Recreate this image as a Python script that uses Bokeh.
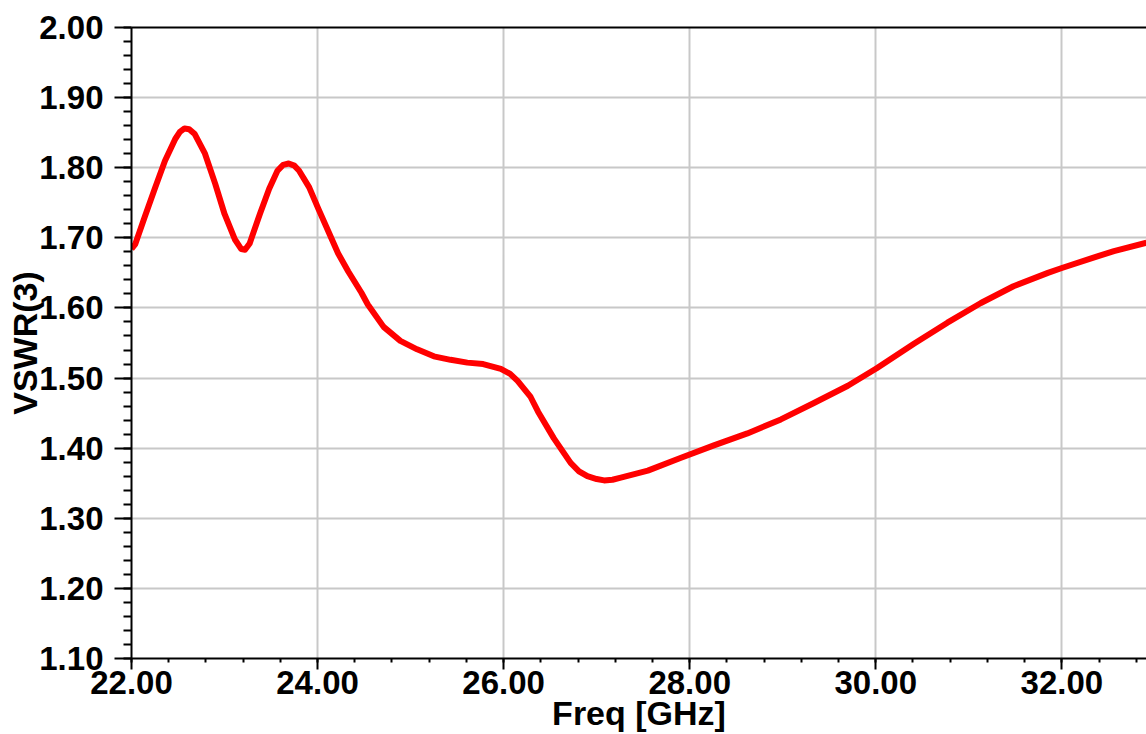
from bokeh.plotting import figure
from bokeh.models import FixedTicker, PrintfTickFormatter, LinearAxis, Range1d
from bokeh.embed import file_html
from bokeh.resources import INLINE

freq = [22.00, 22.04, 22.14, 22.25, 22.36, 22.47, 22.52, 22.57, 22.62, 22.68,
        22.79, 22.90, 23.00, 23.11, 23.18, 23.22, 23.27, 23.38, 23.48, 23.57,
        23.63, 23.69, 23.75, 23.80, 23.91, 24.01, 24.12, 24.22, 24.33, 24.47,
        24.54, 24.71, 24.89, 25.07, 25.25, 25.43, 25.61, 25.78, 25.97, 26.07,
        26.15, 26.29, 26.37, 26.54, 26.72, 26.81, 26.90, 27.00, 27.08, 27.17,
        27.26, 27.55, 27.90, 28.26, 28.62, 28.98, 29.33, 29.70, 30.01, 30.41,
        30.77, 31.13, 31.48, 31.85, 32.00, 32.39, 32.56, 32.91]
vswr = [1.684, 1.691, 1.729, 1.770, 1.810, 1.841, 1.851, 1.856, 1.855, 1.848,
        1.820, 1.777, 1.734, 1.698, 1.684, 1.683, 1.692, 1.734, 1.770, 1.796,
        1.804, 1.806, 1.803, 1.796, 1.772, 1.741, 1.708, 1.678, 1.652, 1.622,
        1.605, 1.573, 1.553, 1.541, 1.531, 1.526, 1.522, 1.520, 1.513, 1.506,
        1.496, 1.473, 1.452, 1.414, 1.379, 1.367, 1.360, 1.356, 1.354, 1.355,
        1.358, 1.368, 1.386, 1.404, 1.421, 1.441, 1.464, 1.489, 1.514, 1.549,
        1.579, 1.607, 1.631, 1.650, 1.657, 1.674, 1.681, 1.693]

x_major = [22, 24, 26, 28, 30, 32]
x_minor = [22 + 0.4 * i for i in range(28)]
y_major = [1.1 + 0.1 * i for i in range(10)]
y_minor = [1.1 + 0.02 * i for i in range(46)]

FONT = "Liberation Sans"

p = figure(width=1146, height=734, output_backend="svg", toolbar_location=None,
           x_range=Range1d(22, 32.91), y_range=Range1d(1.1, 2.0),
           min_border_left=131, min_border_top=27, min_border_right=0,
           min_border_bottom=76, outline_line_color=None,
           x_axis_label="Freq [GHz]", y_axis_label="VSWR(3)")
p.frame_width = 1015
p.frame_height = 631

p.line(freq, vswr, line_color="#ff0000", line_width=6, line_join="round")

for ax in (p.xaxis[0], p.yaxis[0]):
    ax.axis_line_color = "black"
    ax.axis_line_width = 2
    ax.major_tick_line_color = "black"
    ax.major_tick_line_width = 2
    ax.minor_tick_line_color = "black"
    ax.minor_tick_line_width = 2
    ax.major_tick_in = 0
    ax.minor_tick_in = 0
    ax.formatter = PrintfTickFormatter(format="%.2f")
    ax.major_label_text_font = FONT
    ax.major_label_text_font_style = "bold"
    ax.major_label_text_font_size = "33px"
    ax.major_label_text_color = "black"
    ax.axis_label_text_font = FONT
    ax.axis_label_text_font_style = "bold"
    ax.axis_label_text_font_size = "34px"
    ax.axis_label_text_color = "black"

p.xaxis[0].ticker = FixedTicker(ticks=x_major, minor_ticks=x_minor)
p.xaxis[0].major_tick_out = 11
p.xaxis[0].minor_tick_out = 4
p.xaxis[0].major_label_standoff = 1
p.xaxis[0].axis_label_standoff = -3

p.yaxis[0].ticker = FixedTicker(ticks=y_major, minor_ticks=y_minor)
p.yaxis[0].major_tick_out = 17
p.yaxis[0].minor_tick_out = 8
p.yaxis[0].major_label_standoff = 11
p.yaxis[0].axis_label_standoff = -8

top = LinearAxis(ticker=FixedTicker(ticks=[]), major_label_text_font_size="0px",
                 major_tick_line_color=None, minor_tick_line_color=None,
                 axis_line_color="black", axis_line_width=2)
p.add_layout(top, "above")

p.xgrid.ticker = FixedTicker(ticks=x_major)
p.ygrid.ticker = FixedTicker(ticks=y_major)
for g in (p.xgrid[0], p.ygrid[0]):
    g.grid_line_color = "#c8c8c8"
    g.grid_line_width = 2

p.background_fill_color = "white"
p.border_fill_color = "white"

open("out.html", "w").write(file_html(p, INLINE))
